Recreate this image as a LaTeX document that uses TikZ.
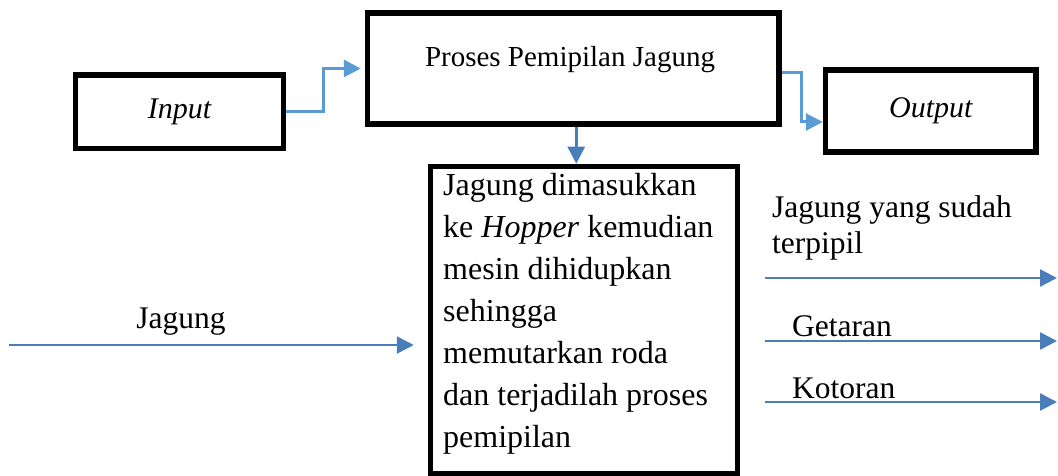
\documentclass[tikz,border=0pt]{standalone}
\usepackage{fontspec}
\setmainfont{Liberation Serif}
\usetikzlibrary{arrows.meta}
\definecolor{wordblue}{RGB}{74, 126, 187}
\definecolor{skyblue}{RGB}{91, 155, 213}

\begin{document}
\begin{tikzpicture}[x=1pt, y=-1pt,
        kotak/.style={draw=black, line width=5.5pt, inner sep=0pt},
        label/.style={inner sep=0pt, align=left, font={\fontsize{31.5}{36}\selectfont}},
        panah/.style={wordblue, line width=2.6pt, -{Triangle[length=17pt, width=17pt]}},
        sambung/.style={skyblue, line width=3pt, -{Triangle[length=17pt, width=17pt]}}]
            \useasboundingbox (0,0) rectangle (1058,476);
            \node[kotak, minimum width=208pt,   minimum height=73.5pt] (input)  at (179.5, 111.75)
                 {\fontsize{30}{36}\selectfont\itshape Input};
            \node[kotak, minimum width=411.5pt, minimum height=111pt]  (proses) at (573.25, 68.5) {};
            \node[kotak, minimum width=210.5pt, minimum height=82pt]   (output) at (930.75, 111)
                 {\fontsize{30}{36}\selectfont\itshape Output};
            \node[kotak, minimum width=307pt,   minimum height=307pt]  (isi)    at (584, 320) {};
            \node[inner sep=0pt, anchor=base] (judul) at (570, 67)
                 {\fontsize{29}{34}\selectfont Proses Pemipilan Jagung};
            \node[inner sep=0pt, anchor=base west, align=left, font={\fontsize{32}{42}\selectfont}] (teks) at (443, 447)
                 {Jagung dimasukkan\\ke \textit{Hopper} kemudian\\mesin dihidupkan\\sehingga\\memutarkan roda\\dan terjadilah proses\\pemipilan};
            \coordinate (masuk)  at (9, 345);
            \coordinate (hasil1) at (765, 278);   \coordinate (ujung1) at (1057, 278);
            \coordinate (hasil2) at (765, 341);   \coordinate (ujung2) at (1057, 341);
            \coordinate (hasil3) at (765, 402);   \coordinate (ujung3) at (1057, 402);
            \node[label, anchor=base]      (jagung)   at (181, 328) {Jagung};
            \node[label, anchor=base west] (terpipil) at (772, 253) {Jagung yang sudah\\terpipil};
            \node[label, anchor=base west] (getaran)  at (792, 336) {Getaran};
            \node[label, anchor=base west] (kotoran)  at (792, 398) {Kotoran};
            \draw[sambung] (input.east) -- ++(37,0) |- ([xshift=-4pt]proses.west);
            \draw[sambung] ([yshift=-4pt]proses.east) -- ++(20,0) |- ([yshift=-11pt]output.west);
            \draw[panah]   ([xshift=3pt]proses.south) -- ([xshift=3pt]proses.south |- isi.north);
            \draw[panah]   (masuk) -- ([xshift=-14pt]masuk -| isi.west);
            \draw[panah]   (hasil1) -- (ujung1);
            \draw[panah]   (hasil2) -- (ujung2);
            \draw[panah]   (hasil3) -- (ujung3);
        \end{tikzpicture}
\end{document}
